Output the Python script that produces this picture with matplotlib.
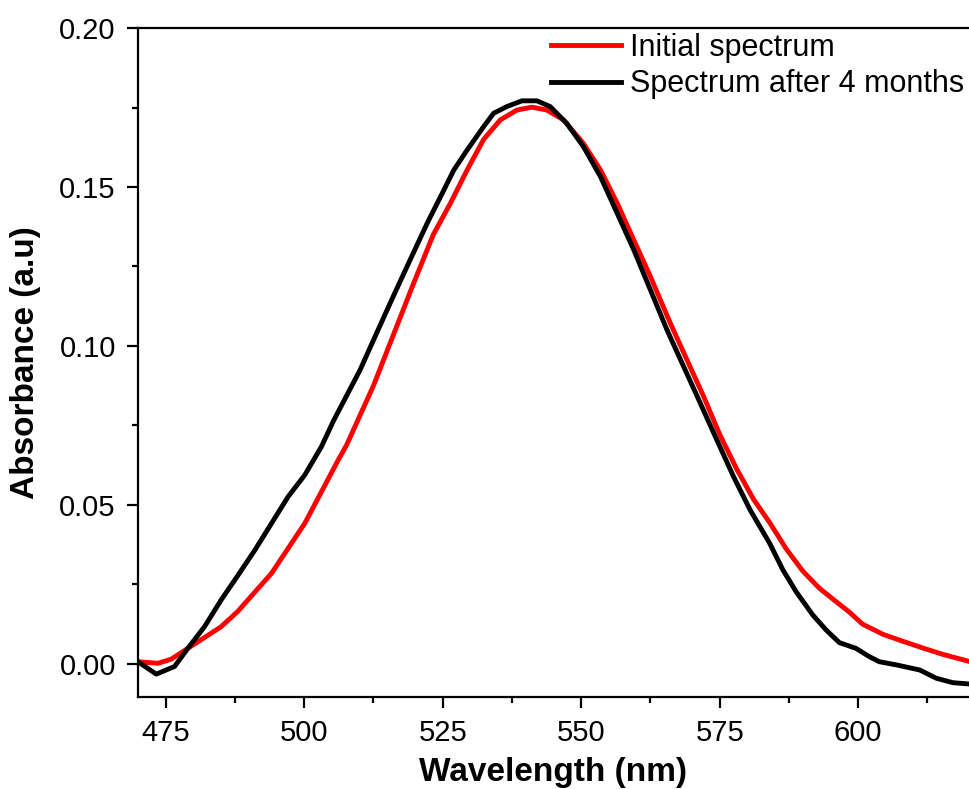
import matplotlib.pyplot as plt
from matplotlib.ticker import MultipleLocator

plt.rcParams['font.family'] = ['Liberation Sans', 'DejaVu Sans']

# Espectro inicial
wl_inicial = [470, 473.6, 476, 479, 485, 488, 494.1, 500.1, 506.1, 507.7, 512.5,
              516.1, 519.7, 523.3, 526.4, 529.4, 532.4, 535.4, 538.4, 541.1,
              543.8, 546.8, 550.4, 553.5, 556.5, 559.5, 562.5, 566.1, 569.1,
              572.1, 575.1, 578.1, 581.1, 584.0, 587.0, 590.0, 593.0, 596.0,
              598.4, 600.8, 604.5, 608.1, 611.7, 615.3, 620]
abs_inicial = [0.0007, 0.0002, 0.0015, 0.0049, 0.0117, 0.0165, 0.0285, 0.0442,
               0.0640, 0.0690, 0.0875, 0.1035, 0.1195, 0.1350, 0.1449, 0.1553,
               0.1650, 0.1711, 0.1742, 0.1751, 0.1742, 0.1711, 0.1637, 0.1553,
               0.1449, 0.1333, 0.1218, 0.1071, 0.0956, 0.0841, 0.0718, 0.0612,
               0.0518, 0.0445, 0.0362, 0.0292, 0.0238, 0.0196, 0.0163, 0.0125,
               0.0093, 0.0071, 0.0050, 0.0030, 0.0008]

# Espectro despues de 4 meses
wl_4meses = [470, 473.3, 476.6, 479, 482.0, 485.0, 488.1, 491.1, 494.1, 497.1,
             500.1, 503.1, 505.3, 510.1, 511.9, 515.5, 519.1, 522.2, 524.6,
             527.0, 529.4, 532.4, 534.2, 536.6, 539.3, 542.0, 544.4, 547.4,
             550.4, 553.5, 556.5, 559.5, 562.5, 565.5, 568.5, 571.5, 574.5,
             577.5, 580.5, 584.0, 586.4, 588.8, 591.8, 594.2, 596.6, 599.6,
             602.0, 603.8, 606.9, 611.1, 614.1, 617.1, 620]
abs_4meses = [0.0007, -0.0032, -0.0008, 0.0049, 0.0117, 0.0201, 0.0280, 0.0358,
              0.0442, 0.0526, 0.0594, 0.0683, 0.0765, 0.0925, 0.0995, 0.1134,
              0.1270, 0.1386, 0.1469, 0.1553, 0.1616, 0.1690, 0.1732, 0.1753,
              0.1771, 0.1771, 0.1753, 0.1700, 0.1627, 0.1532, 0.1417, 0.1302,
              0.1176, 0.1050, 0.0935, 0.0820, 0.0704, 0.0589, 0.0484, 0.0380,
              0.0296, 0.0227, 0.0154, 0.0107, 0.0067, 0.0049, 0.0023, 0.0007,
              -0.0003, -0.0019, -0.0045, -0.0059, -0.0063]

fig = plt.figure(figsize=(9.69, 7.89), dpi=100)
ax = fig.add_axes([0.1424, 0.1166, 0.8576, 0.8479])

ax.plot(wl_inicial, abs_inicial, color='#ff0000', lw=3.5, label='Initial spectrum')
ax.plot(wl_4meses, abs_4meses, color='black', lw=3.5, label='Spectrum after 4 months')

ax.set_xlim(470, 620)
ax.set_ylim(-0.0104, 0.2)
ax.xaxis.set_major_locator(MultipleLocator(25))
ax.xaxis.set_minor_locator(MultipleLocator(12.5))
ax.yaxis.set_major_locator(MultipleLocator(0.05))
ax.yaxis.set_minor_locator(MultipleLocator(0.025))
ax.yaxis.set_major_formatter(plt.FormatStrFormatter('%.2f'))

ax.spines['right'].set_visible(False)
for s in ['left', 'bottom', 'top']:
    ax.spines[s].set_linewidth(1.6)
ax.tick_params(which='major', direction='out', length=8, width=1.6,
               labelsize=21, pad=8)
ax.tick_params(which='minor', direction='out', length=4.5, width=1.6)

ax.set_xlabel('Wavelength (nm)', fontsize=24, fontweight='bold', labelpad=7)
ax.set_ylabel('Absorbance (a.u)', fontsize=24, fontweight='bold', labelpad=13)

ax.legend(loc='upper right', bbox_to_anchor=(1.0, 1.0), frameon=False,
          fontsize=22, handlelength=2.3, handletextpad=0.3, labelspacing=0.22,
          borderaxespad=0.1, borderpad=0.05)

plt.savefig('out.png', dpi=100)
